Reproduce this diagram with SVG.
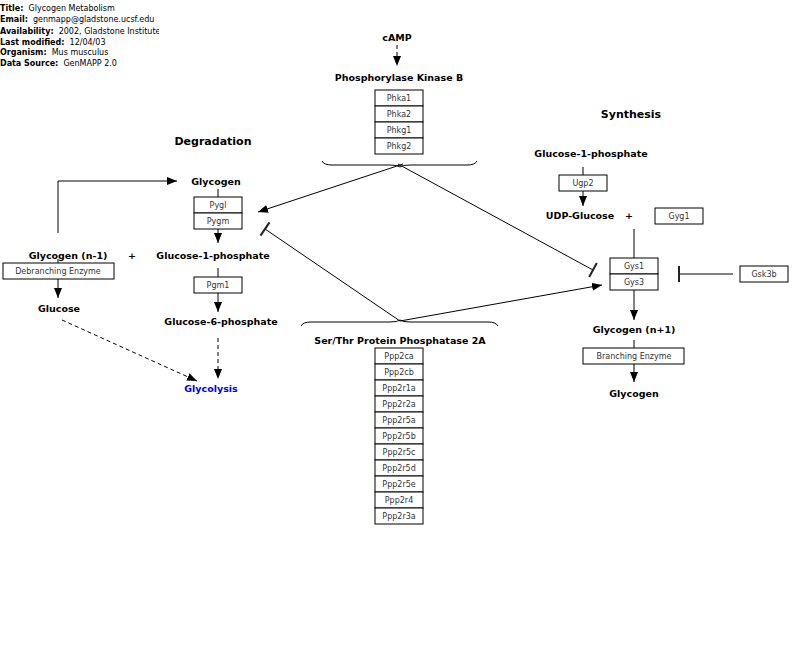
<svg xmlns="http://www.w3.org/2000/svg" width="800" height="659" viewBox="0 0 800 659">
<style>
text{font-family:"DejaVu Sans",sans-serif;fill:#000}
.h{font-size:8px;white-space:pre}
.hb{font-weight:bold}
.lbl{font-size:9.5px;font-weight:bold;text-anchor:middle}
.sec{font-size:11px;font-weight:bold;text-anchor:middle}
.gp rect{fill:#fff;stroke:#000;stroke-width:1}
.gp text{font-size:8px;text-anchor:middle;fill:#333}
.c{fill:none;stroke:#000;stroke-width:1}
.d{stroke-dasharray:4,3}
.t{stroke:#222;stroke-width:2}
</style>
<defs>
<marker id="ah" markerWidth="10" markerHeight="8" refX="10" refY="4" orient="auto" markerUnits="userSpaceOnUse">
<path d="M0,0 L10,4 L0,8 Z" fill="#000"/>
</marker>
<clipPath id="hc"><rect x="0" y="0" width="159" height="70"/></clipPath>
</defs>
<rect width="800" height="659" fill="#fff"/>
<g id="header" clip-path="url(#hc)">
<text x="0" y="11" class="h"><tspan class="hb">Title:</tspan>  Glycogen Metabolism</text>
<text x="0" y="22" class="h"><tspan class="hb">Email:</tspan>  genmapp@gladstone.ucsf.edu</text>
<text x="0" y="34" class="h"><tspan class="hb">Availability:</tspan>  2002, Gladstone Institute</text>
<text x="0" y="45" class="h"><tspan class="hb">Last modified:</tspan>  12/04/03</text>
<text x="0" y="55" class="h"><tspan class="hb">Organism:</tspan>  Mus musculus</text>
<text x="0" y="66" class="h"><tspan class="hb">Data Source:</tspan>  GenMAPP 2.0</text>
</g>
<g id="connectors">
<line class="c d" x1="397" y1="45" x2="397" y2="66" marker-end="url(#ah)"/>
<path class="c" d="M322,161 Q324,165 332,165 L390,165 Q398,165 400,167 Q402,165 410,165 L467,165 Q475,165 477,161"/>
<path class="c" d="M301,326 Q303,322 311,322 L390,322 Q398,322 400,320 Q402,322 410,322 L488,322 Q496,322 498,326"/>
<line class="c" x1="403" y1="164" x2="258" y2="212" marker-end="url(#ah)"/>
<line class="c" x1="398" y1="164" x2="593" y2="270"/>
<line class="t" x1="596.8" y1="263" x2="589.2" y2="277"/>
<line class="c" x1="400" y1="321" x2="265" y2="229"/>
<line class="t" x1="269.5" y1="222.4" x2="260.5" y2="235.6"/>
<line class="c" x1="400" y1="321" x2="602" y2="285" marker-end="url(#ah)"/>
<line class="c" x1="218" y1="189" x2="218" y2="197"/>
<line class="c" x1="218" y1="229" x2="218" y2="243" marker-end="url(#ah)"/>
<line class="c" x1="218" y1="268" x2="218" y2="277"/>
<line class="c" x1="218" y1="293" x2="218" y2="312" marker-end="url(#ah)"/>
<line class="c d" x1="218" y1="338" x2="218" y2="379" marker-end="url(#ah)"/>
<line class="c d" x1="62" y1="320" x2="197" y2="381" marker-end="url(#ah)"/>
<path class="c" d="M58,233 L58,181 L177,181" marker-end="url(#ah)"/>
<line class="c" x1="58" y1="259" x2="58" y2="263"/>
<line class="c" x1="58" y1="279" x2="58" y2="298" marker-end="url(#ah)"/>
<line class="c" x1="583" y1="167" x2="583" y2="175"/>
<line class="c" x1="583" y1="191" x2="583" y2="206" marker-end="url(#ah)"/>
<line class="c" x1="634" y1="229" x2="634" y2="258" stroke="#555"/>
<line class="c" x1="634" y1="290" x2="634" y2="320" marker-end="url(#ah)"/>
<line class="c" x1="634" y1="340" x2="634" y2="348"/>
<line class="c" x1="634" y1="364" x2="634" y2="382" marker-end="url(#ah)"/>
<line class="c" x1="733" y1="274" x2="679" y2="274"/>
<line class="t" x1="679" y1="266" x2="679" y2="282"/>
</g>
<g id="n-camp"><text class="lbl" x="397" y="41">cAMP</text></g>
<g id="n-phk"><text class="lbl" x="399" y="81">Phosphorylase Kinase B</text></g>
<g id="g-phk" class="gp">
<rect x="375" y="90" width="48" height="16"/><text x="399" y="101">Phka1</text>
<rect x="375" y="106" width="48" height="16"/><text x="399" y="117">Phka2</text>
<rect x="375" y="122" width="48" height="16"/><text x="399" y="133">Phkg1</text>
<rect x="375" y="138" width="48" height="16"/><text x="399" y="149">Phkg2</text>
</g>
<g id="n-degradation"><text class="sec" x="213" y="145">Degradation</text></g>
<g id="n-synthesis"><text class="sec" x="631" y="118">Synthesis</text></g>
<g id="n-glycogen1"><text class="lbl" x="216" y="185">Glycogen</text></g>
<g id="g-pyg" class="gp">
<rect x="194" y="197" width="48" height="16"/><text x="218" y="208">Pygl</text>
<rect x="194" y="213" width="48" height="16"/><text x="218" y="224">Pygm</text>
</g>
<g id="n-g1p"><text class="lbl" x="213" y="259">Glucose-1-phosphate</text></g>
<g id="g-pgm1" class="gp"><rect x="194" y="277" width="48" height="16"/><text x="218" y="288">Pgm1</text></g>
<g id="n-g6p"><text class="lbl" x="221" y="325">Glucose-6-phosphate</text></g>
<g id="n-glycolysis"><text class="lbl" x="211" y="392" style="fill:#0000e6">Glycolysis</text></g>
<g id="n-glycogen-n1"><text class="lbl" x="68" y="259">Glycogen (n-1)</text></g>
<g id="n-plus1"><text class="lbl" x="132" y="259">+</text></g>
<g id="g-debranch" class="gp"><rect x="3" y="263" width="111" height="16"/><text x="58" y="274">Debranching Enzyme</text></g>
<g id="n-glucose"><text class="lbl" x="59" y="312">Glucose</text></g>
<g id="n-pp2a"><text class="lbl" x="400" y="344">Ser/Thr Protein Phosphatase 2A</text></g>
<g id="g-pp2a" class="gp">
<rect x="375" y="348" width="48" height="16"/><text x="399" y="359">Ppp2ca</text>
<rect x="375" y="364" width="48" height="16"/><text x="399" y="375">Ppp2cb</text>
<rect x="375" y="380" width="48" height="16"/><text x="399" y="391">Ppp2r1a</text>
<rect x="375" y="396" width="48" height="16"/><text x="399" y="407">Ppp2r2a</text>
<rect x="375" y="412" width="48" height="16"/><text x="399" y="423">Ppp2r5a</text>
<rect x="375" y="428" width="48" height="16"/><text x="399" y="439">Ppp2r5b</text>
<rect x="375" y="444" width="48" height="16"/><text x="399" y="455">Ppp2r5c</text>
<rect x="375" y="460" width="48" height="16"/><text x="399" y="471">Ppp2r5d</text>
<rect x="375" y="476" width="48" height="16"/><text x="399" y="487">Ppp2r5e</text>
<rect x="375" y="492" width="48" height="16"/><text x="399" y="503">Ppp2r4</text>
<rect x="375" y="508" width="48" height="16"/><text x="399" y="519">Ppp2r3a</text>
</g>
<g id="n-g1p-syn"><text class="lbl" x="591" y="157">Glucose-1-phosphate</text></g>
<g id="g-ugp2" class="gp"><rect x="559" y="175" width="48" height="16"/><text x="583" y="186">Ugp2</text></g>
<g id="n-udpg"><text class="lbl" x="580" y="219">UDP-Glucose</text></g>
<g id="n-plus2"><text class="lbl" x="629" y="219">+</text></g>
<g id="g-gyg1" class="gp"><rect x="655" y="208" width="48" height="16"/><text x="679" y="219">Gyg1</text></g>
<g id="g-gys" class="gp">
<rect x="610" y="258" width="48" height="16"/><text x="634" y="269">Gys1</text>
<rect x="610" y="274" width="48" height="16"/><text x="634" y="285">Gys3</text>
</g>
<g id="g-gsk3b" class="gp"><rect x="740" y="266" width="48" height="16"/><text x="764" y="277">Gsk3b</text></g>
<g id="n-glycogen-np1"><text class="lbl" x="634" y="333">Glycogen (n+1)</text></g>
<g id="g-branch" class="gp"><rect x="583" y="348" width="101" height="16"/><text x="634" y="359">Branching Enzyme</text></g>
<g id="n-glycogen2"><text class="lbl" x="634" y="397">Glycogen</text></g>
</svg>
